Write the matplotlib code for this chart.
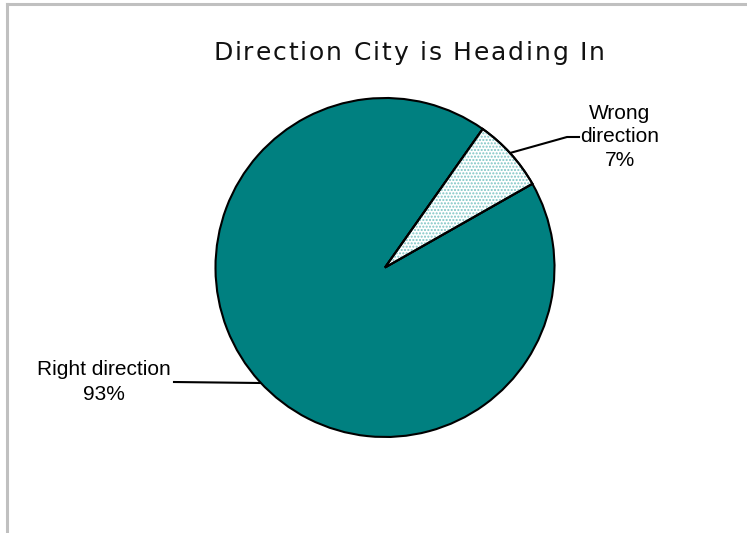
import matplotlib.pyplot as plt
from matplotlib.lines import Line2D
from matplotlib.patches import Wedge

labels = ['Right direction', 'Wrong direction']
values = [93, 7]
label_text = ['Right direction\n93%', 'Wrong\ndirection\n7%']
title = 'Direction City is Heading In'

W, H = 747, 533
fig = plt.figure(figsize=(W / 100, H / 100), dpi=100)
fig.patch.set_facecolor('white')

# grey frame, only top and left edges visible
fig.add_artist(Line2D([7 / W, 1], [1 - 4 / H, 1 - 4 / H], color='#c0c0c0', lw=2.2))
fig.add_artist(Line2D([7 / W, 7 / W], [0, 1 - 4 / H], color='#c0c0c0', lw=2.2))

# pie centred at (385, 267) with radius ~169 px
cx, cy, r = 385, 267.5, 169.5
ax = fig.add_axes([(cx - r) / W, 1 - (cy + r) / H, 2 * r / W, 2 * r / H])
plt.rcParams['hatch.linewidth'] = 1.0
wedges, _ = ax.pie(values, startangle=54.8, counterclock=True,
                   colors=['#008080', 'white'],
                   wedgeprops=dict(edgecolor='black', linewidth=1.5))
# dotted fill for the small slice, drawn as an overlay so the dots get their own colour
w = wedges[1]
dots = Wedge(w.center, w.r, w.theta1, w.theta2, facecolor='none',
             edgecolor='#7cc4c4', linewidth=0, hatch='.....')
ax.add_patch(dots)
ax.add_patch(Wedge(w.center, w.r, w.theta1, w.theta2, facecolor='none',
                   edgecolor='black', linewidth=1.5))
ax.set_xlim(-1, 1)
ax.set_ylim(-1, 1)
ax.set_aspect('auto')

# letter-spaced title, laid out one glyph at a time
renderer = fig.canvas.get_renderer()
fs = 18
em = fs * 100 / 72
widths = []
for ch in title:
    if ch == ' ':
        widths.append(0.318 * em)
        continue
    t = fig.text(0, 0, ch, fontsize=fs, family='DejaVu Sans')
    widths.append(t.get_window_extent(renderer).width)
    t.remove()
span = 392
track = (span - sum(widths)) / (len(title) - 1)
x = 409 - span / 2
for ch, bw in zip(title, widths):
    if ch != ' ':
        fig.text(x / W, 1 - 60 / H, ch, ha='left', va='baseline', fontsize=fs,
                 family='DejaVu Sans', color='#111111')
    x += bw + track

fig.text(103.5 / W, 1 - 382 / H, label_text[0], ha='center', va='center',
         fontsize=15, family='Liberation Sans', linespacing=1.38)
fig.text(620 / W, 1 - 137 / H, label_text[1], ha='center', va='center',
         fontsize=15, family='Liberation Sans', linespacing=1.33)

# leader lines
fig.add_artist(Line2D([174 / W, 260 / W], [1 - 382 / H, 1 - 383 / H], color='black', lw=1.5))
fig.add_artist(Line2D([510 / W, 567 / W, 579 / W], [1 - 153 / H, 1 - 137 / H, 1 - 137 / H],
                      color='black', lw=1.5))

fig.savefig('out.png', dpi=100)
